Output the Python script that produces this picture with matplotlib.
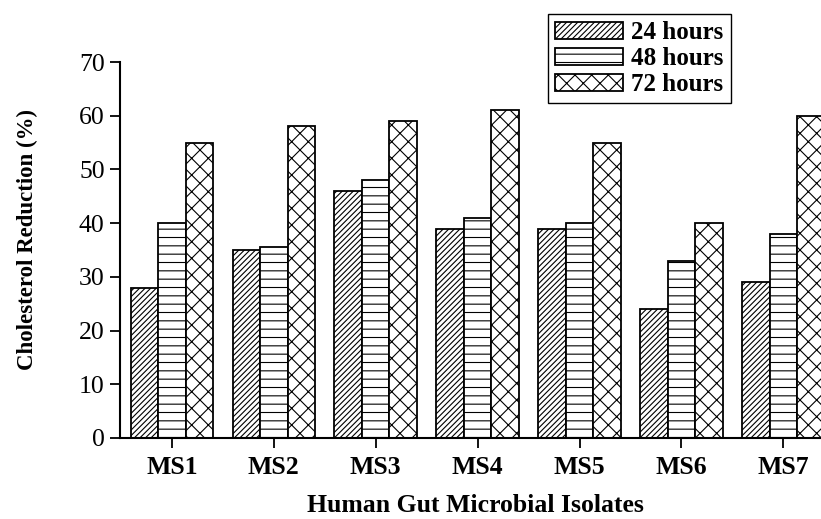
import matplotlib.pyplot as plt
import numpy as np

plt.rcParams["font.family"] = ["Liberation Serif", "DejaVu Serif"]
plt.rcParams["hatch.linewidth"] = 0.8

isolates = ["MS1", "MS2", "MS3", "MS4", "MS5", "MS6", "MS7"]
h24 = [28, 35, 46, 39, 39, 24, 29]
h48 = [40, 35.5, 48, 41, 40, 33, 38]
h72 = [55, 58, 59, 61, 55, 40, 60]
series = [("24 hours", h24, "//////"), ("48 hours", h48, "--"), ("72 hours", h72, "xx")]

W, H = 821, 519
fig = plt.figure(figsize=(W / 100, H / 100), dpi=100)
ax = fig.add_axes([120 / W, (H - 438) / H, 1 - 120 / W, (438 - 62) / H])

x = np.arange(1, len(isolates) + 1)
width = 0.27
for i, (name, vals, hatch) in enumerate(series):
    ax.bar(x + (i - 1) * width, vals, width, facecolor="white", edgecolor="black",
           linewidth=1.3, hatch=hatch, label=name)

ax.set_xlim(0.49, 7.37)
ax.set_ylim(0, 70)
ax.set_yticks(range(0, 71, 10))
ax.set_xticks(x)
ax.set_xticklabels(isolates, fontsize=18.5, fontweight="bold")
ax.tick_params(axis="y", labelsize=18.5, direction="out", length=7, width=1.3, pad=4)
ax.tick_params(axis="x", direction="out", length=7, width=1.3, pad=6)

for s in ["top", "right"]:
    ax.spines[s].set_visible(False)
for s in ["left", "bottom"]:
    ax.spines[s].set_linewidth(1.5)

fig.text(27 / W, 1 - 240 / H, "Cholesterol Reduction (%)", rotation=90, ha="center",
         va="center", fontsize=16.5, fontweight="bold")
fig.text(475 / W, 1 - 505 / H, "Human Gut Microbial Isolates", ha="center", va="center",
         fontsize=18.5, fontweight="bold")

leg = fig.legend(loc="upper left", bbox_to_anchor=(548 / W, 1 - 14 / H), fancybox=False,
                 edgecolor="black", framealpha=1, borderaxespad=0, handlelength=2.7,
                 handleheight=0.68, handletextpad=0.35, labelspacing=0.12, borderpad=0.28,
                 prop={"size": 18, "weight": "bold"})
leg.get_frame().set_linewidth(1.0)

fig.savefig("out.png", dpi=100)
